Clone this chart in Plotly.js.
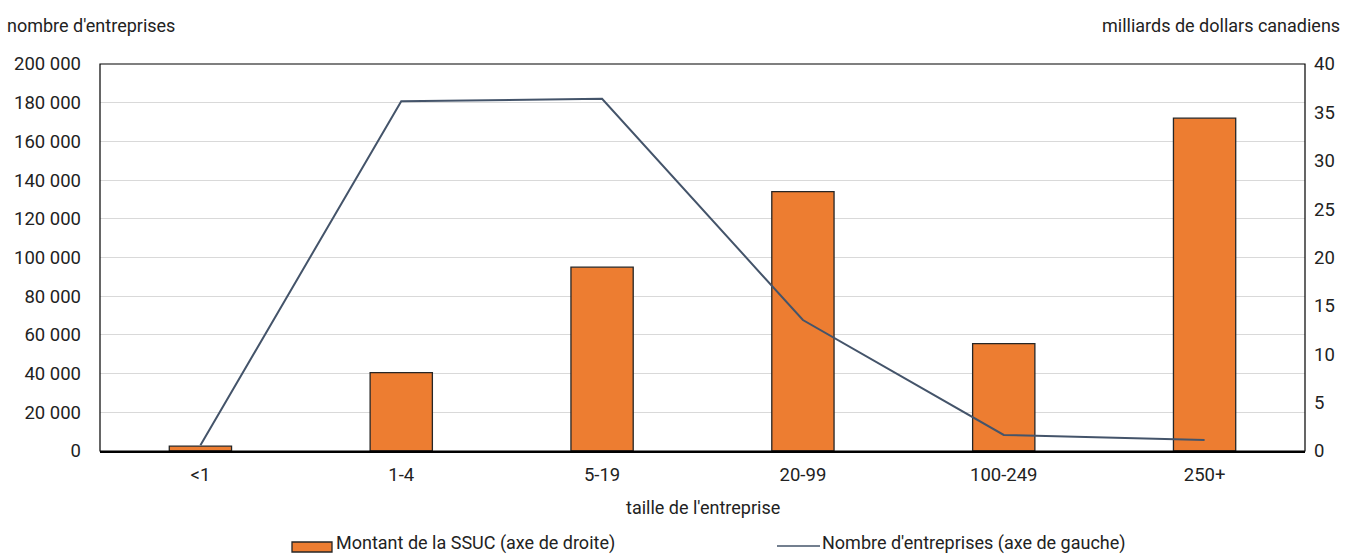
<!DOCTYPE html>
<html>
<head>
<meta charset="utf-8">
<script src="https://cdn.plot.ly/plotly-3.0.1.min.js"></script>
<style>
  body { margin: 0; background: #fff; }
  #chart { width: 1346px; height: 554px; }
</style>
</head>
<body>
<div id="chart"></div>
<script>
const categories = ['<1', '1-4', '5-19', '20-99', '100-249', '250+'];
// montant de la SSUC, milliards $ (axe de droite)
const ssucAmount = [0.5, 8.1, 19.0, 26.8, 11.1, 34.4];
// nombre d'entreprises (axe de gauche)
const firmCount = [3000, 180800, 182000, 67700, 8300, 5700];

const leftTicks = [0, 20000, 40000, 60000, 80000, 100000, 120000, 140000, 160000, 180000, 200000];
const rightTicks = [0, 5, 10, 15, 20, 25, 30, 35, 40];

const barName = 'Montant de la SSUC (axe de droite)';
const lineName = "Nombre d'entreprises (axe de gauche)";

const FONT = 'Roboto, "Liberation Sans", sans-serif';
const TXT = '#222222';
const ORANGE = '#ED7D31';
const SLATE = '#44546A';

// plot box in pixels, used to place the hand-made legend and titles
const L = 100, R = 1305, T = 64, B = 451;
const px = x => (x - L) / (R - L);
const py = y => (B - y) / (B - T);

const data = [
    {
        x: categories,
        y: ssucAmount,
        type: 'bar',
        name: barName,
        yaxis: 'y',
        width: 0.31,
        marker: { color: ORANGE, line: { color: '#262626', width: 1.3 } }
    },
    {
        x: categories,
        y: firmCount,
        type: 'scatter',
        mode: 'lines',
        name: lineName,
        yaxis: 'y2',
        line: { color: SLATE, width: 2 }
    }
];

const tf = { family: FONT, size: 18, color: TXT };
const tickf = { family: FONT, size: 18.5, color: TXT };

const layout = {
    width: 1346,
    height: 554,
    separators: ', ',
    paper_bgcolor: '#fff',
    plot_bgcolor: '#fff',
    font: tf,
    margin: { l: L, r: 1346 - R, t: T, b: 554 - B },
    showlegend: false,
    xaxis: {
        type: 'category',
        automargin: false,
        showgrid: false,
        showline: true,
        linecolor: '#000',
        linewidth: 2,
        ticks: '',
        ticklabelstandoff: 6,
        tickfont: tickf
    },
    yaxis: {
        side: 'right',
        automargin: false,
        range: [0, 40],
        tickvals: rightTicks,
        showgrid: false,
        zeroline: false,
        showline: false,
        ticks: '',
        ticklabelstandoff: 8,
        tickfont: tickf
    },
    yaxis2: {
        side: 'left',
        overlaying: 'y',
        automargin: false,
        range: [0, 200000],
        tickvals: leftTicks,
        tickformat: ',d',
        showgrid: true,
        gridcolor: '#d9d9d9',
        gridwidth: 1,
        zeroline: false,
        showline: false,
        ticks: '',
        ticklabelstandoff: 18,
        tickfont: tickf
    },
    shapes: [
        { type: 'rect', xref: 'paper', yref: 'paper', x0: 0, x1: 1, y0: 0, y1: 1,
          line: { color: '#000', width: 1.2 }, layer: 'above' },
        // legend keys
        { type: 'rect', xref: 'paper', yref: 'paper', x0: px(292), x1: px(332), y0: py(552), y1: py(542),
          fillcolor: ORANGE, line: { color: '#262626', width: 1.3 } },
        { type: 'line', xref: 'paper', yref: 'paper', x0: px(777), x1: px(820), y0: py(546), y1: py(546),
          line: { color: SLATE, width: 1.3 } }
    ],
    annotations: [
        { text: "nombre d'entreprises", xref: 'paper', yref: 'paper', x: px(5), y: py(25),
          xanchor: 'left', yanchor: 'middle', showarrow: false, font: tf },
        { text: 'milliards de dollars canadiens', xref: 'paper', yref: 'paper', x: px(1342), y: py(25),
          xanchor: 'right', yanchor: 'middle', showarrow: false, font: tf },
        { text: "taille de l'entreprise", xref: 'paper', yref: 'paper', x: 0.5, y: py(507),
          xanchor: 'center', yanchor: 'middle', showarrow: false, font: tf },
        { text: barName, xref: 'paper', yref: 'paper', x: px(334), y: py(543),
          xanchor: 'left', yanchor: 'middle', showarrow: false, font: tf },
        { text: lineName, xref: 'paper', yref: 'paper', x: px(820), y: py(543),
          xanchor: 'left', yanchor: 'middle', showarrow: false, font: tf }
    ]
};

Plotly.newPlot('chart', data, layout, { displayModeBar: false, staticPlot: true });
</script>
</body>
</html>
